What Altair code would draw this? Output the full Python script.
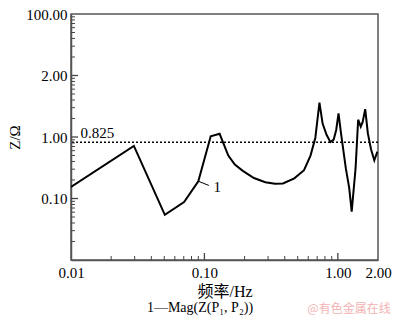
import altair as alt
import pandas as pd

# ---- data ----
freq = [0.01, 0.0296, 0.0505, 0.0704, 0.090, 0.1115, 0.130, 0.151, 0.169, 0.194,
        0.235, 0.286, 0.338, 0.388, 0.472, 0.558, 0.624, 0.678, 0.728, 0.769,
        0.823, 0.880, 0.931, 0.972, 1.012, 1.056, 1.148, 1.216, 1.270, 1.358,
        1.420, 1.485, 1.535, 1.604, 1.678, 1.773, 1.876, 1.98]
mag = [0.154, 0.716, 0.0542, 0.0875, 0.191, 1.025, 1.126, 0.499, 0.356, 0.281,
       0.215, 0.184, 0.173, 0.176, 0.213, 0.289, 0.499, 0.965, 3.61, 1.655,
       1.086, 0.826, 0.907, 1.30, 2.43, 1.155, 0.308, 0.150, 0.0611, 0.308,
       1.91, 1.47, 1.76, 2.84, 1.155, 0.633, 0.417, 0.577]

ref_level = [0.825]
ref_label = ["0.825"]
ref_label_pos_f = [0.0118]
ref_label_pos_z = [1.16]

curve_label = ["1"]
curve_label_f = [0.117]
curve_label_z = [0.152]
leader_f = [0.0905, 0.108]
leader_z = [0.19, 0.163]

x_labels = [0.01, 0.1, 1.0, 2.0]
y_labels = [0.1, 1.0, 10.0, 100.0]
x_major = [0.1, 1.0]
x_minor = [0.02, 0.03, 0.04, 0.05, 0.06, 0.07, 0.08, 0.09,
           0.2, 0.3, 0.4, 0.5, 0.6, 0.7, 0.8, 0.9]
y_major = [0.1, 1.0, 10.0]
y_minor = [0.02, 0.03, 0.04, 0.05, 0.06, 0.07, 0.08, 0.09,
           0.2, 0.3, 0.4, 0.5, 0.6, 0.7, 0.8, 0.9,
           2, 3, 4, 5, 6, 7, 8, 9,
           20, 30, 40, 50, 60, 70, 80, 90]

caption = ["1—Mag(Z(P₁, P₂))"]
watermark = ["@有色金属在线"]

# ---- layout ----
W, H = 307, 246
SERIF = "Liberation Serif, Noto Sans CJK SC"
AXC = "#555555"
TICKC = "#444444"

xs = alt.Scale(type="log", domain=[0.01, 2], nice=False)
ys = alt.Scale(type="log", domain=[0.01, 100], nice=False)

x_axis = alt.Axis(values=x_labels, labelExpr="format(datum.value, '.2f')",
                  title="频率/Hz", ticks=False, grid=False, labelFlush=False,
                  labelOverlap=False, labelFont=SERIF, labelFontSize=15,
                  labelColor="black", labelPadding=5, titleFont=SERIF,
                  titleFontSize=16, titleFontWeight="normal", titleColor="black",
                  titlePadding=3, domainColor=AXC, domainWidth=1.5)
y_axis = alt.Axis(values=y_labels,
                  labelExpr="datum.value == 10 ? '2.00' : format(datum.value, '.2f')",
                  title="Z/Ω", ticks=False, grid=False, labelFlush=False,
                  labelOverlap=False, labelFont=SERIF, labelFontSize=15,
                  labelColor="black", labelPadding=4, titleFont=SERIF,
                  titleFontSize=15, titleFontWeight="normal", titleColor="black",
                  titlePadding=3, domainColor=AXC, domainWidth=1.5)

X = alt.X("f:Q", scale=xs, axis=x_axis)
Y = alt.Y("z:Q", scale=ys, axis=y_axis)

curve = alt.Chart(pd.DataFrame({"f": freq, "z": mag})).mark_line(
    color="black", strokeWidth=2, clip=True).encode(x=X, y=Y)

rule = alt.Chart(pd.DataFrame({"z": ref_level})).mark_rule(
    color="black", strokeWidth=1.5, strokeDash=[2, 2]).encode(y=Y)

ref_text = alt.Chart(pd.DataFrame({"f": ref_label_pos_f, "z": ref_label_pos_z,
                                   "t": ref_label})).mark_text(
    font=SERIF, fontSize=15, align="left", baseline="middle", color="black"
).encode(x=X, y=Y, text="t:N")

leader = alt.Chart(pd.DataFrame({"f": leader_f, "z": leader_z})).mark_line(
    color="black", strokeWidth=1).encode(x=X, y=Y)

lab1 = alt.Chart(pd.DataFrame({"f": curve_label_f, "z": curve_label_z,
                               "t": curve_label})).mark_text(
    font=SERIF, fontSize=15, align="left", baseline="middle", color="black"
).encode(x=X, y=Y, text="t:N")

# inward-pointing axis ticks
ytick_major = alt.Chart(pd.DataFrame({"z": y_major})).mark_rule(
    color=TICKC, strokeWidth=1.3).encode(y=Y, x=alt.value(0), x2=alt.value(7))
ytick_minor = alt.Chart(pd.DataFrame({"z": y_minor})).mark_rule(
    color=TICKC, strokeWidth=1).encode(y=Y, x=alt.value(0), x2=alt.value(4))
xtick_major = alt.Chart(pd.DataFrame({"f": x_major})).mark_rule(
    color=TICKC, strokeWidth=1.3).encode(x=X, y=alt.value(H), y2=alt.value(H - 7))
xtick_minor = alt.Chart(pd.DataFrame({"f": x_minor})).mark_rule(
    color=TICKC, strokeWidth=1).encode(x=X, y=alt.value(H), y2=alt.value(H - 4))

cap = alt.Chart(pd.DataFrame({"t": caption})).mark_text(
    font=SERIF, fontSize=14, color="black", align="center", baseline="middle"
).encode(x=alt.value(129), y=alt.value(294), text="t:N")

wm = alt.Chart(pd.DataFrame({"t": watermark})).mark_text(
    font="Noto Sans CJK SC", fontSize=12, color="#f2b3b3", align="center",
    baseline="middle").encode(x=alt.value(278), y=alt.value(295), text="t:N")

chart = alt.layer(
    rule, curve, leader, ref_text, lab1, cap, wm,
    ytick_minor, ytick_major, xtick_minor, xtick_major
).properties(
    width=W, height=H,
    autosize=alt.AutoSizeParams(type="none"),
    padding={"left": 63, "top": 6, "right": 14, "bottom": 56},
    background="white",
).configure_view(stroke=AXC, strokeWidth=1.5)

chart.save("out.html", embed_options={"renderer": "svg", "actions": False})
